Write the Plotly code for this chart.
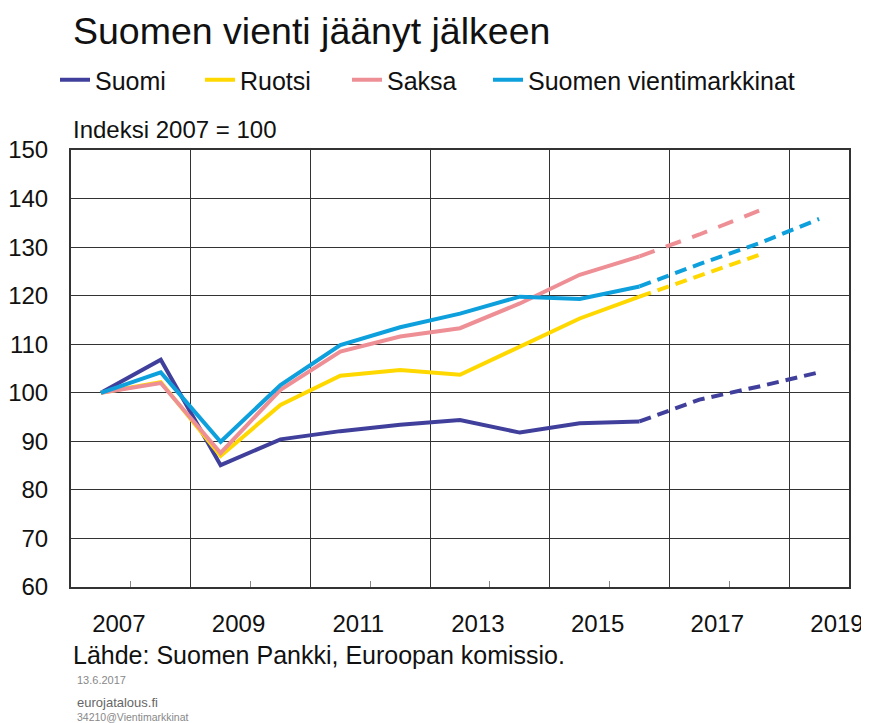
import plotly.graph_objects as go

years = [2007, 2008, 2009, 2010, 2011, 2012, 2013, 2014, 2015, 2016, 2017, 2018, 2019]
suomi = [100, 106.8, 85.1, 90.4, 92.1, 93.4, 94.4, 91.8, 93.7, 94.1, 98.6, 101.3, 104.2]
ruotsi = [100, 102.2, 87.0, 97.5, 103.5, 104.7, 103.7, 109.5, 115.3, 119.8, 124.2, 128.4, None]
saksa = [100, 102.0, 87.6, 100.6, 108.5, 111.6, 113.3, 118.4, 124.3, 128.1, 132.6, 137.5, None]
markkinat = [100, 104.2, 89.9, 101.6, 109.8, 113.5, 116.3, 119.8, 119.3, 121.9, 126.5, 130.8, 135.8]
forecast_from = 2016

series = [
    ("Suomi", suomi, "#40409c", "12px,7px"),
    ("Ruotsi", ruotsi, "#ffd800", "12px,7px"),
    ("Saksa", saksa, "#ee8f96", "16px,12px"),
    ("Suomen vientimarkkinat", markkinat, "#0ea0dc", "12px,7px"),
]

# page has an 8px body margin; the figure is sized/offset to compensate
OFF = 8
W, H = 869 - OFF, 723 - OFF
legend_px = [55, 200, 347, 488]

tick_years = [2007, 2009, 2011, 2013, 2015, 2017, 2019]
font = "Liberation Sans, Arial, sans-serif"

fig = go.Figure()
for i, (name, vals, col, dash) in enumerate(series):
    lg = "legend" if i == 0 else f"legend{i+1}"
    xs = [y for y, v in zip(years, vals) if v is not None and y <= forecast_from]
    ys = [v for y, v in zip(years, vals) if v is not None and y <= forecast_from]
    fig.add_trace(go.Scatter(x=xs, y=ys, mode="lines", name=name, legend=lg,
                             line=dict(color=col, width=4), showlegend=True))
    xf = [y for y, v in zip(years, vals) if v is not None and y >= forecast_from]
    yf = [v for y, v in zip(years, vals) if v is not None and y >= forecast_from]
    fig.add_trace(go.Scatter(x=xf, y=yf, mode="lines", name=name + " ennuste",
                             line=dict(color=col, width=4, dash=dash), showlegend=False))

legend_common = dict(orientation="h", xref="container", yref="container", xanchor="left",
                     y=1 - (80 - OFF) / H, yanchor="middle", font=dict(size=25, color="#111"),
                     bgcolor="rgba(0,0,0,0)", borderwidth=0, itemwidth=30)
legends = {}
for i, px in enumerate(legend_px):
    key = "legend" if i == 0 else f"legend{i+1}"
    legends[key] = dict(legend_common, x=(px - OFF) / W)

fig.update_layout(
    width=W, height=H,
    margin=dict(l=71 - OFF, r=20, t=150 - OFF, b=136, autoexpand=False),
    paper_bgcolor="white", plot_bgcolor="white",
    font=dict(family=font, size=24, color="#111"),
    showlegend=True,
    **legends,
)
fig.update_xaxes(
    range=[2006.5, 2019.5], automargin=False,
    tickmode="array", tickvals=[y + 0.5 for y in tick_years], ticktext=[str(y) for y in tick_years],
    ticks="inside", ticklen=6, tickwidth=1, tickcolor="#888",
    ticklabelshift=-12, ticklabelstandoff=14,
    showgrid=False,
    minor=dict(tickvals=[y + 1.5 for y in tick_years[:-1]], showgrid=True, gridcolor="#333", gridwidth=1, ticks=""),
    showline=True, linecolor="#333", linewidth=2, mirror=True,
    zeroline=False, tickfont=dict(size=24),
)
fig.update_yaxes(
    range=[60, 150], dtick=10, tick0=60, automargin=False,
    showgrid=True, gridcolor="#333", gridwidth=1,
    ticks="", ticklabelstandoff=16,
    showline=True, linecolor="#333", linewidth=2, mirror=True,
    zeroline=False, tickfont=dict(size=24),
)

def ann(text, y, size, color="#111", x=0.0):
    fig.add_annotation(text=text, xref="paper", yref="paper", x=x, y=y,
                       xanchor="left", yanchor="middle", showarrow=False,
                       font=dict(size=size, color=color, family=font))

ann("Suomen vienti jäänyt jälkeen", 1.272, 37.5)
ann("Indeksi 2007 = 100", 1.046, 24)
ann("Lähde: Suomen Pankki, Euroopan komissio.", -0.156, 25)
ann("13.6.2017", -0.213, 11, "#888", x=0.005)
ann("eurojatalous.fi", -0.265, 13, "#666", x=0.005)
ann("34210@Vientimarkkinat", -0.297, 10.5, "#888", x=0.005)

fig.write_html("out.html")
